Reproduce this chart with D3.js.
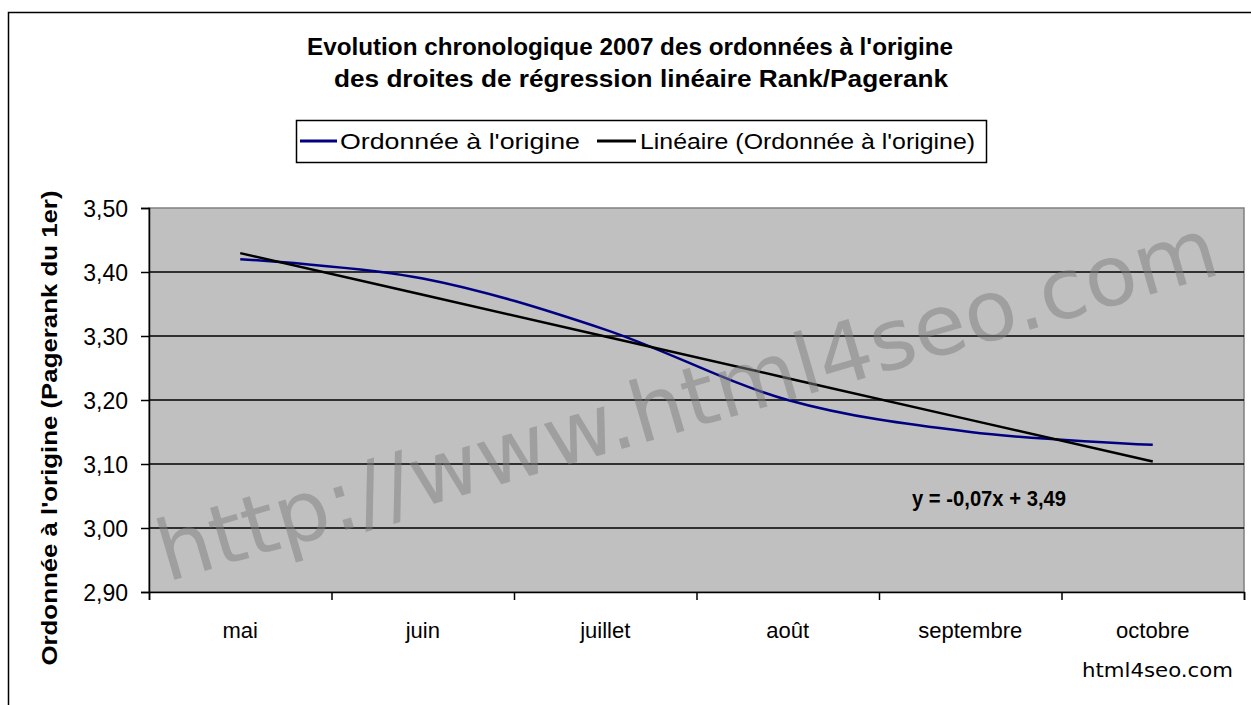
<!DOCTYPE html>
<html>
<head>
<meta charset="utf-8">
<script src="https://cdn.jsdelivr.net/npm/d3@7"></script>
<style>
  body { margin: 0; background: #fff; }
  text { font-family: "Liberation Sans", Arial, sans-serif; fill: #000; }
</style>
</head>
<body>
<svg class="chart" width="1251" height="705"></svg>
<script>

// Chart data.
var months = ["mai", "juin", "juillet", "août", "septembre", "octobre"];
var intercepts = [3.42, 3.39, 3.31, 3.20, 3.15, 3.13];
var yTicks = [2.90, 3.00, 3.10, 3.20, 3.30, 3.40, 3.50];
var titleLines = ["Evolution chronologique 2007 des ordonnées à l'origine",
                  "des droites de régression linéaire Rank/Pagerank"];
var seriesNames = ["Ordonnée à l'origine", "Linéaire (Ordonnée à l'origine)"];

var svg = d3.select(".chart");

// Plot area.
var plot = {left: 149, top: 208, right: 1244, bottom: 592};

var frFormat = d3.formatLocale({decimal: ",", thousands: " ", grouping: [3], currency: ["", "€"], minus: "-"});
var fmt2 = frFormat.format(".2f");

// Outer chart border (cut off at right and bottom).
svg.append("path")
    .attr("d", "M8.5,705 L8.5,12.5 L1251,12.5")
    .attr("fill", "none")
    .attr("stroke", "#000")
    .attr("stroke-width", 1.5);

// Title.
svg.selectAll(".title")
    .data(titleLines)
  .enter().append("text")
    .attr("class", "title")
    .attr("x", function(d, i) { return i == 0 ? 307 : 334; })
    .attr("y", function(d, i) { return 55 + i * 32; })
    .attr("textLength", function(d, i) { return i == 0 ? 646 : 614; })
    .attr("lengthAdjust", "spacingAndGlyphs")
    .style("font-weight", "bold")
    .style("font-size", "23px")
    .text(function(d) { return d; });

// Scales.
var x = d3.scaleBand()
    .domain(months)
    .range([plot.left, plot.right]);

var xTicks = d3.scaleLinear()
    .domain([0, months.length])
    .range([plot.left, plot.right]);

var y = d3.scaleLinear()
    .domain([2.9, 3.5])
    .range([plot.bottom, plot.top]);

// Plot background.
svg.append("rect")
    .attr("x", plot.left)
    .attr("y", plot.top)
    .attr("width", plot.right - plot.left)
    .attr("height", plot.bottom - plot.top)
    .attr("fill", "#c0c0c0")
    .attr("stroke", "#808080")
    .attr("stroke-width", 1.5);

// Gridlines.
svg.append("g")
    .selectAll("line")
    .data(yTicks.slice(1, -1))
  .enter().append("line")
    .attr("x1", plot.left)
    .attr("x2", plot.right)
    .attr("y1", function(d) { return y(d); })
    .attr("y2", function(d) { return y(d); })
    .attr("stroke", "#000")
    .attr("stroke-width", 1.5);

// Y axis.
var yAxis = svg.append("g")
    .attr("transform", "translate(" + plot.left + ",0)")
    .call(d3.axisLeft(y).tickValues(yTicks).tickFormat(fmt2).tickSize(8).tickPadding(13));
yAxis.selectAll("text")
    .style("font-family", "'Liberation Sans', Arial, sans-serif")
    .style("font-size", "23px")
    .attr("dy", "0.36em");

// X axis: ticks between categories, labels in the middle.
var xTickAxis = svg.append("g")
    .attr("transform", "translate(0," + plot.bottom + ")")
    .call(d3.axisBottom(xTicks).ticks(months.length).tickFormat("").tickSize(8));

var xAxis = svg.append("g")
    .attr("transform", "translate(0," + plot.bottom + ")")
    .call(d3.axisBottom(x).tickSize(0).tickPadding(30));
xAxis.select(".domain").remove();
xAxis.selectAll("text")
    .style("font-family", "'Liberation Sans', Arial, sans-serif")
    .style("font-size", "22px");

svg.selectAll(".domain, .tick line").attr("stroke", "#000").attr("stroke-width", 1.5);

// Y axis title.
svg.append("text")
    .attr("transform", "translate(57,428) rotate(-90)")
    .attr("text-anchor", "middle")
    .attr("textLength", 475)
    .attr("lengthAdjust", "spacingAndGlyphs")
    .style("font-weight", "bold")
    .style("font-size", "22px")
    .text("Ordonnée à l'origine (Pagerank du 1er)");

// Series line (smoothed).
var cx = function(d, i) { return x(months[i]) + x.bandwidth() / 2; };

var line = d3.line()
    .x(cx)
    .y(function(d) { return y(d); })
    .curve(d3.curveCardinal.tension(0));

svg.append("path")
    .datum(intercepts)
    .attr("fill", "none")
    .attr("stroke", "#000080")
    .attr("stroke-width", 2.5)
    .attr("d", line);

// Linear trend line (least squares on index 1..n).
var xs = intercepts.map(function(d, i) { return i + 1; });
var mx = d3.mean(xs), my = d3.mean(intercepts);
var slope = d3.sum(xs, function(v, i) { return (v - mx) * (intercepts[i] - my); }) /
            d3.sum(xs, function(v) { return (v - mx) * (v - mx); });
var offset = my - slope * mx;
var trend = xs.map(function(v) { return slope * v + offset; });

svg.append("path")
    .datum(trend)
    .attr("fill", "none")
    .attr("stroke", "#000")
    .attr("stroke-width", 2.5)
    .attr("d", d3.line().x(cx).y(function(d) { return y(d); }));

// Trend equation.
svg.append("text")
    .attr("x", 912)
    .attr("y", 506)
    .attr("textLength", 154)
    .attr("lengthAdjust", "spacingAndGlyphs")
    .style("font-weight", "bold")
    .style("font-size", "22px")
    .text("y = " + fmt2(slope) + "x + " + fmt2(offset));

// Legend.
var legend = svg.append("g");
legend.append("rect")
    .attr("x", 296.5)
    .attr("y", 120.5)
    .attr("width", 690)
    .attr("height", 42)
    .attr("fill", "#fff")
    .attr("stroke", "#000")
    .attr("stroke-width", 1.5);

var legendItems = [
  {name: seriesNames[0], color: "#000080", x0: 300, x1: 337, tx: 340, len: 240},
  {name: seriesNames[1], color: "#000", x0: 597, x1: 636, tx: 640, len: 335}
];
legend.selectAll(".item")
    .data(legendItems)
  .enter().append("line")
    .attr("x1", function(d) { return d.x0; })
    .attr("x2", function(d) { return d.x1; })
    .attr("y1", 141)
    .attr("y2", 141)
    .attr("stroke", function(d) { return d.color; })
    .attr("stroke-width", 3);
legend.selectAll(".label")
    .data(legendItems)
  .enter().append("text")
    .attr("x", function(d) { return d.tx; })
    .attr("y", 149)
    .attr("textLength", function(d) { return d.len; })
    .attr("lengthAdjust", "spacingAndGlyphs")
    .style("font-size", "22px")
    .text(function(d) { return d.name; });

// Watermark.
svg.append("text")
    .attr("transform", "translate(167,582) rotate(-16.3)")
    .attr("textLength", 1100)
    .attr("lengthAdjust", "spacingAndGlyphs")
    .style("font-family", "'DejaVu Sans', Verdana, sans-serif")
    .style("font-size", "84px")
    .style("fill", "#808080")
    .style("opacity", 0.5)
    .text("http://www.html4seo.com");

// Source.
svg.append("text")
    .attr("x", 1233)
    .attr("y", 677)
    .attr("text-anchor", "end")
    .attr("textLength", 151)
    .attr("lengthAdjust", "spacingAndGlyphs")
    .style("font-family", "'DejaVu Sans', Verdana, sans-serif")
    .style("font-size", "20px")
    .text("html4seo.com");

</script>
</body>
</html>
